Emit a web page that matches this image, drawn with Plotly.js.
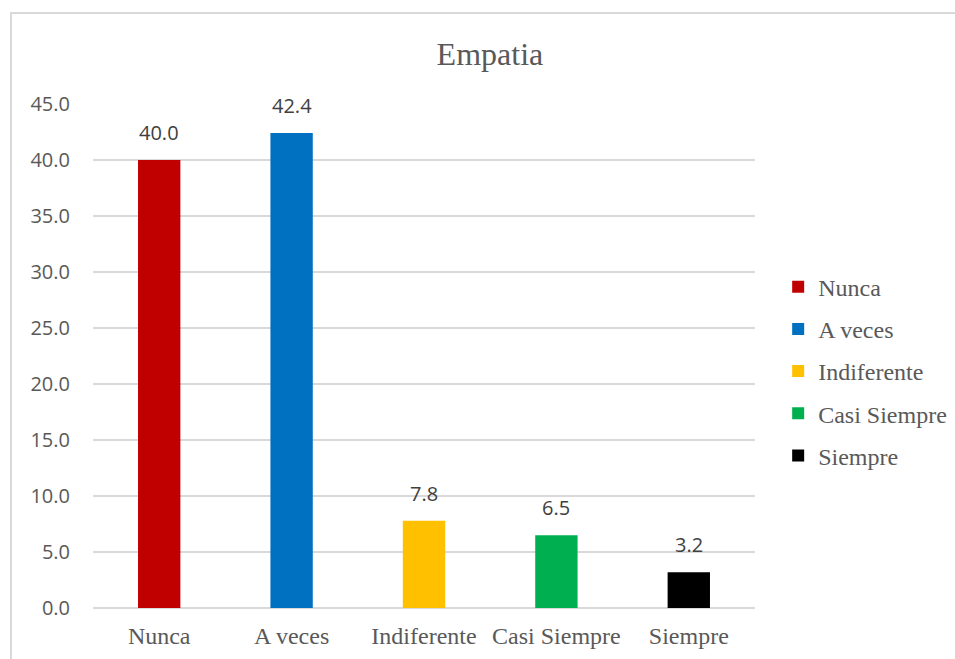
<!DOCTYPE html>
<html>
<head>
<meta charset="utf-8">
<script src="https://cdn.plot.ly/plotly-3.0.1.min.js"></script>
<style>
  html, body { margin: 0; padding: 0; background: #ffffff; }
  #wrap { position: relative; width: 955px; height: 659px; overflow: hidden; }
  #chart { position: absolute; left: 0; top: 0; width: 955px; height: 659px; }
  #frame { position: absolute; left: 10px; top: 12px; width: 1000px; height: 700px;
           border: 2px solid #d9d9d9; box-sizing: border-box; pointer-events: none; }
</style>
</head>
<body>
<div id="wrap">
  <div id="chart"></div>
  <div id="frame"></div>
</div>
<script>
// Empatia: percentage of answers per level
const categories = ['Nunca', 'A veces', 'Indiferente', 'Casi Siempre', 'Siempre'];
const values = [40.0, 42.4, 7.8, 6.5, 3.2];
const colors = ['#C00000', '#0070C0', '#FFC000', '#00B050', '#000000'];
const yTicks = [0, 5, 10, 15, 20, 25, 30, 35, 40, 45];

const serif = 'Liberation Serif, Times New Roman, serif';
const sans = 'Open Sans, Liberation Sans, sans-serif';

// one trace per category so each bar gets its own legend entry
const traces = categories.map((c, i) => ({
  type: 'bar',
  name: c,
  legendgroup: c,
  x: [c],
  y: [values[i]],
  width: 0.32,
  marker: { color: colors[i], line: { width: 0 } },
  hoverinfo: 'x+y'
}));

// value labels above each bar
const labels = categories.map((c, i) => ({
  x: c,
  y: values[i],
  xref: 'x',
  yref: 'y',
  text: values[i].toFixed(1),
  showarrow: false,
  yanchor: 'bottom',
  yshift: 12,
  font: { family: sans, size: 20, color: '#404040' }
}));

const layout = {
  width: 955,
  height: 659,
  paper_bgcolor: '#ffffff',
  plot_bgcolor: '#ffffff',
  margin: { l: 93, r: 199.5, t: 104, b: 51, autoexpand: false },
  barmode: 'overlay',
  title: {
    text: 'Empatia',
    font: { family: serif, size: 32, color: '#595959' },
    xref: 'container',
    x: 0.513,
    xanchor: 'center',
    yref: 'container',
    y: 0.918,
    yanchor: 'middle'
  },
  xaxis: {
    type: 'category',
    categoryorder: 'array',
    categoryarray: categories,
    tickfont: { family: serif, size: 24, color: '#595959' },
    ticks: 'outside',
    ticklen: 6,
    tickcolor: 'rgba(0,0,0,0)',
    showline: false,
    showgrid: false,
    zeroline: false
  },
  yaxis: {
    range: [0, 45],
    tickvals: yTicks,
    tickformat: '.1f',
    tickfont: { family: sans, size: 20, color: '#595959' },
    ticks: 'outside',
    ticklen: 18,
    tickcolor: 'rgba(0,0,0,0)',
    showgrid: true,
    gridcolor: '#d9d9d9',
    gridwidth: 1.5,
    zeroline: true,
    zerolinecolor: '#d9d9d9',
    zerolinewidth: 1.5,
    showline: false
  },
  legend: {
    x: 1.035,
    xref: 'paper',
    xanchor: 'left',
    y: 0.47,
    yanchor: 'middle',
    font: { family: serif, size: 24, color: '#595959' },
    tracegroupgap: 8,
    bgcolor: 'rgba(0,0,0,0)'
  },
  annotations: labels,
  showlegend: true
};

Plotly.newPlot('chart', traces, layout, { displayModeBar: false, staticPlot: true });
</script>
</body>
</html>
